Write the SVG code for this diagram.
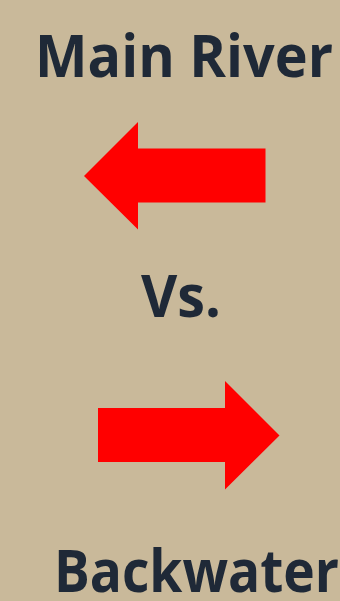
<svg xmlns="http://www.w3.org/2000/svg" width="340" height="601" viewBox="0 0 340 601">
<style>
.t{font-family:"Open Sans","Noto Sans","DejaVu Sans",sans-serif;font-weight:700;fill:#1F2937;}
.a{fill:#FF0000;}
</style>
<rect x="0" y="0" width="340" height="601" fill="#C9B99A"/>
<g id="main-river" transform="translate(35,77) scale(1,1.09)"><text class="t" x="0" y="0" font-size="54" textLength="298" lengthAdjust="spacingAndGlyphs">Main River</text></g>
<g id="vs"><text class="t" x="141" y="317" font-size="59" textLength="80" lengthAdjust="spacingAndGlyphs">Vs.</text></g>
<g id="backwater" transform="translate(54,592) scale(1,1.12)"><text class="t" x="0" y="0" font-size="52" textLength="285" lengthAdjust="spacingAndGlyphs">Backwater</text></g>
<g id="connectors">
<polygon class="a" points="84,176 138,122 138,148.5 265.5,148.5 265.5,202.5 138,202.5 138,229.5"/>
<polygon class="a" points="98,408 225,408 225,381 279.5,435.5 225,489.5 225,462 98,462"/>
</g>
</svg>
